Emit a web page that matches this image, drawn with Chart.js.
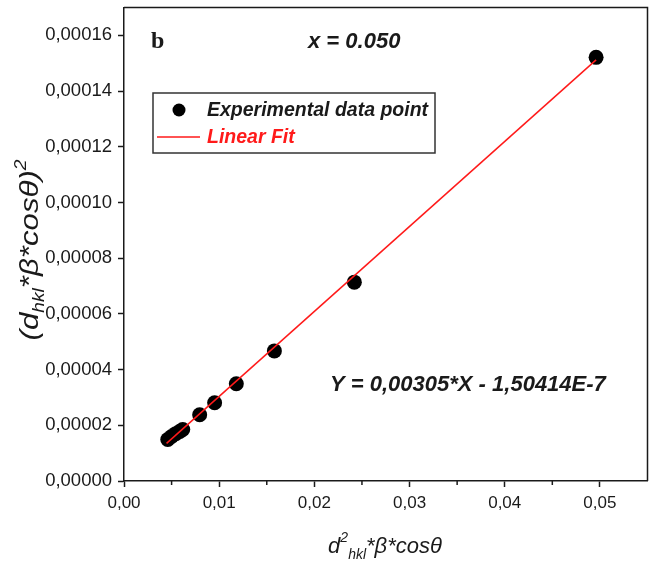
<!DOCTYPE html>
<html lang="en">
<head>
    <meta charset="UTF-8">
    <title>Williamson-Hall plot</title>
    <script src="https://cdn.jsdelivr.net/npm/chart.js"></script>
    <style>
        html, body { margin: 0; padding: 0; background: #fff; }
        #wrap { width: 655px; height: 565px; }
    </style>
</head>
<body>
    <div id="wrap"><canvas id="plot" width="655" height="565"></canvas></div>

    <script>
        // experimental points
        const xVals = [0.0046, 0.0050, 0.00544, 0.00586, 0.00617, 0.00795, 0.00952, 0.0118, 0.0158, 0.0242, 0.0496];
        const yVals = [0.0000149, 0.0000160, 0.0000170, 0.0000178, 0.0000185, 0.0000238, 0.0000281, 0.0000349, 0.0000467, 0.0000714, 0.0001521];

        // linear fit end points
        const fitX = [0.00447, 0.0496];
        const fitY = [0.0000135, 0.0001512];

        // ticks
        const xTicks = [0, 0.01, 0.02, 0.03, 0.04, 0.05];
        const xMinor = [0.005, 0.015, 0.025, 0.035, 0.045];
        const yTicks = [0, 0.00002, 0.00004, 0.00006, 0.00008, 0.0001, 0.00012, 0.00014, 0.00016];

        const seriesLabel = 'Experimental data point';
        const fitLabel = 'Linear Fit';
        const equationText = 'Y = 0,00305*X - 1,50414E-7';
        const sampleText = 'x = 0.050';
        const panelText = 'b';

        const FONT = '"Liberation Sans", Arial, sans-serif';
        const INK = '#1a1a1a';

        function drawRich(ctx, parts, cx, cy) {
            let total = 0;
            parts.forEach(p => {
                ctx.font = 'italic ' + p.s + 'px ' + FONT;
                p.w = ctx.measureText(p.t).width;
                total += p.w;
            });
            let x = cx - total / 2;
            ctx.textBaseline = 'alphabetic';
            ctx.textAlign = 'left';
            parts.forEach(p => {
                ctx.font = 'italic ' + p.s + 'px ' + FONT;
                ctx.fillText(p.t, x, cy + (p.dy || 0));
                x += p.w;
            });
        }

        const decorations = {
            id: 'decorations',
            afterDraw(chart) {
                const ctx = chart.ctx;
                const a = chart.chartArea;
                const xs = chart.scales.x;
                ctx.save();

                // frame top / right
                ctx.strokeStyle = INK;
                ctx.lineWidth = 1.5;
                ctx.beginPath();
                ctx.moveTo(a.left, a.top);
                ctx.lineTo(a.right, a.top);
                ctx.lineTo(a.right, a.bottom);
                ctx.stroke();

                // minor ticks on x
                xMinor.forEach(v => {
                    const px = xs.getPixelForValue(v);
                    ctx.beginPath();
                    ctx.moveTo(px, a.bottom);
                    ctx.lineTo(px, a.bottom + 4);
                    ctx.stroke();
                });

                // axis titles
                ctx.fillStyle = INK;
                drawRich(ctx, [
                    { t: 'd', s: 22 },
                    { t: '2', s: 14, dy: -11 },
                    { t: 'hkl', s: 14, dy: 6 },
                    { t: '*β*cosθ', s: 22 }
                ], 385, 553);

                ctx.save();
                ctx.translate(38, 250);
                ctx.rotate(-Math.PI / 2);
                ctx.scale(1.2, 1);
                drawRich(ctx, [
                    { t: '(d', s: 26 },
                    { t: 'hkl', s: 16, dy: 6 },
                    { t: '*β*cosθ)', s: 26 },
                    { t: '2', s: 16, dy: -12 }
                ], 0, 0);
                ctx.restore();

                // panel letter
                ctx.font = 'bold 24px "Liberation Serif", serif';
                ctx.textBaseline = 'middle';
                ctx.textAlign = 'left';
                ctx.fillText(panelText, 151, 42);

                // annotations
                ctx.font = 'italic bold 22px ' + FONT;
                ctx.fillText(sampleText, 308, 42);
                ctx.fillText(equationText, 330, 385);

                // legend box
                ctx.lineWidth = 1.5;
                ctx.strokeStyle = '#333';
                ctx.strokeRect(153, 93, 282, 60);
                ctx.fillStyle = '#000';
                ctx.beginPath();
                ctx.arc(179, 110, 6.5, 0, Math.PI * 2);
                ctx.fill();
                ctx.strokeStyle = '#ff1a1a';
                ctx.beginPath();
                ctx.moveTo(157, 137);
                ctx.lineTo(200, 137);
                ctx.stroke();
                ctx.font = 'italic bold 19.5px ' + FONT;
                ctx.fillStyle = INK;
                ctx.fillText(seriesLabel, 207, 111);
                ctx.fillStyle = '#ff1a1a';
                ctx.fillText(fitLabel, 207, 138);

                ctx.restore();
            }
        };

        const ctx = document.getElementById('plot').getContext('2d');
        new Chart(ctx, {
            type: 'scatter',
            data: {
                datasets: [
                    {
                        label: fitLabel,
                        data: fitX.map((x, i) => ({ x: x, y: fitY[i] })),
                        showLine: true,
                        borderColor: '#ff1a1a',
                        borderWidth: 1.5,
                        pointRadius: 0,
                        fill: false,
                        order: 0
                    },
                    {
                        label: seriesLabel,
                        data: xVals.map((x, i) => ({ x: x, y: yVals[i] })),
                        backgroundColor: '#000',
                        borderColor: '#000',
                        borderWidth: 0,
                        pointRadius: 7.5,
                        order: 1
                    }
                ]
            },
            options: {
                responsive: false,
                animation: false,
                layout: { padding: { left: 0, right: 6, top: 6, bottom: 0 } },
                plugins: {
                    legend: { display: false },
                    tooltip: { enabled: false }
                },
                scales: {
                    x: {
                        type: 'linear',
                        min: 0,
                        max: 0.055,
                        afterBuildTicks: s => { s.ticks = xTicks.map(v => ({ value: v })); },
                        afterFit: s => { s.height = 84; s.paddingLeft = 0; s.paddingRight = 0; },
                        grid: { drawOnChartArea: false, tickLength: 6, tickWidth: 1.5, tickColor: INK },
                        border: { color: INK, width: 1.5 },
                        ticks: {
                            padding: 6,
                            color: INK,
                            font: { family: FONT, size: 17 },
                            maxRotation: 0,
                            callback: v => v.toFixed(2).replace('.', ',')
                        }
                    },
                    y: {
                        type: 'linear',
                        min: 0,
                        max: 0.00017,
                        afterBuildTicks: s => { s.ticks = yTicks.map(v => ({ value: v })); },
                        afterFit: s => { s.width = 124; s.paddingTop = 0; s.paddingBottom = 0; },
                        grid: { drawOnChartArea: false, tickLength: 6, tickWidth: 1.5, tickColor: INK },
                        border: { color: INK, width: 1.5 },
                        ticks: {
                            padding: 6,
                            color: INK,
                            font: { family: FONT, size: 18.5 },
                            callback: v => v.toFixed(5).replace('.', ',')
                        }
                    }
                }
            },
            plugins: [decorations]
        });
    </script>
</body>
</html>
